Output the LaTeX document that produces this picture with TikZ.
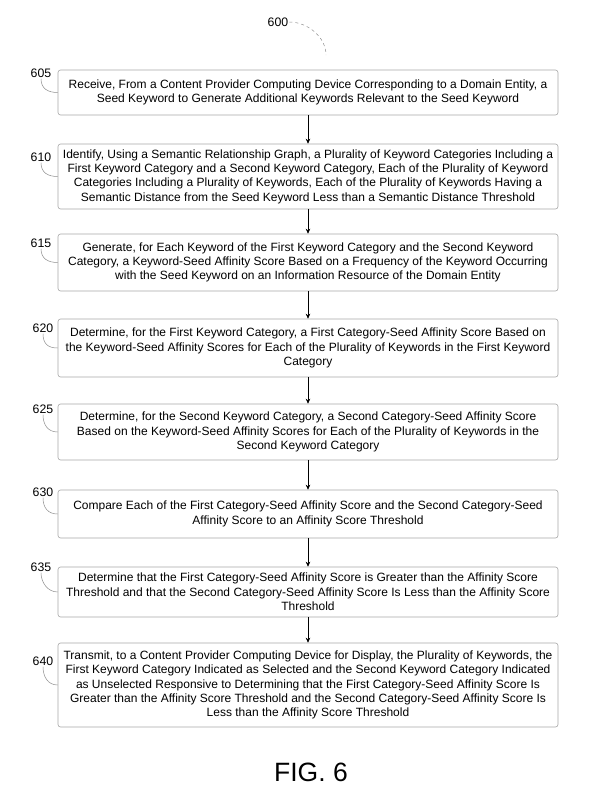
\documentclass[tikz,border=0pt]{standalone}
\usepackage{fontspec}
\setmainfont{Liberation Sans}
\usetikzlibrary{arrows.meta}
\tikzset{
  stepbox/.style={draw=black!35, line width=0.6pt, rounded corners=2.5pt, minimum width=500pt,
                  inner sep=0pt, align=center, font=\fontsize{12}{14.3}\selectfont},
  reflabel/.style={inner sep=1pt, font=\fontsize{12.3}{13}\selectfont},
  leader/.style={draw=black!45, line width=0.5pt},
  flow/.style={draw, line width=0.6pt, -{Stealth[length=5pt,width=4.5pt]}}
}

\begin{document}
\begin{tikzpicture}[x=1pt,y=-1pt]
  \useasboundingbox (0,0) rectangle (594,807);
  % figure number
  \node[reflabel] (l600) at (278,22) {600};
  \coordinate (c600) at (326,55);
  \draw[leader, dashed] (l600.east) .. controls +(18,0) and +(0,-18) .. (c600);

  % steps
  \node[stepbox, minimum height=45pt] (b605) at (308,92.5) {Receive, From a Content Provider Computing Device Corresponding to a Domain Entity, a\\Seed Keyword to Generate Additional Keywords Relevant to the Seed Keyword};
  \node[stepbox, minimum height=65pt] (b610) at (308,176.5) {Identify, Using a Semantic Relationship Graph, a Plurality of Keyword Categories Including a\\First Keyword Category and a Second Keyword Category, Each of the Plurality of Keyword\\Categories Including a Plurality of Keywords, Each of the Plurality of Keywords Having a\\Semantic Distance from the Seed Keyword Less than a Semantic Distance Threshold};
  \node[stepbox, minimum height=57pt] (b615) at (308,262.5) {Generate, for Each Keyword of the First Keyword Category and the Second Keyword\\Category, a Keyword-Seed Affinity Score Based on a Frequency of the Keyword Occurring\\with the Seed Keyword on an Information Resource of the Domain Entity};
  \node[stepbox, minimum height=58pt] (b620) at (308,348) {Determine, for the First Keyword Category, a First Category-Seed Affinity Score Based on\\the Keyword-Seed Affinity Scores for Each of the Plurality of Keywords in the First Keyword\\Category};
  \node[stepbox, minimum height=56pt] (b625) at (308,432) {Determine, for the Second Keyword Category, a Second Category-Seed Affinity Score\\Based on the Keyword-Seed Affinity Scores for Each of the Plurality of Keywords in the\\Second Keyword Category};
  \node[stepbox, minimum height=48pt] (b630) at (308,514) {Compare Each of the First Category-Seed Affinity Score and the Second Category-Seed\\Affinity Score to an Affinity Score Threshold};
  \node[stepbox, minimum height=50pt] (b635) at (308,592) {Determine that the First Category-Seed Affinity Score is Greater than the Affinity Score\\Threshold and that the Second Category-Seed Affinity Score Is Less than the Affinity Score\\Threshold};
  \node[stepbox, minimum height=84pt] (b640) at (308,685) {Transmit, to a Content Provider Computing Device for Display, the Plurality of Keywords, the\\First Keyword Category Indicated as Selected and the Second Keyword Category Indicated\\as Unselected Responsive to Determining that the First Category-Seed Affinity Score Is\\Greater than the Affinity Score Threshold and the Second Category-Seed Affinity Score Is\\Less than the Affinity Score Threshold};

  % reference numerals
  \node[reflabel] (l605) at (41,73) {605};
  \node[reflabel] (l610) at (41,157) {610};
  \node[reflabel] (l615) at (41,243) {615};
  \node[reflabel] (l620) at (43,328) {620};
  \node[reflabel] (l625) at (43,409) {625};
  \node[reflabel] (l630) at (43,492) {630};
  \node[reflabel] (l635) at (41,567) {635};
  \node[reflabel] (l640) at (43,661) {640};
  \foreach \n in {605,610,615,620,625,630,635,640}
    \draw[leader] (l\n.south) .. controls +(0,10) and +(-10,0) .. (b\n.west);

  % flow
  \draw[flow] (b605) -- (b610);
  \draw[flow] (b610) -- (b615);
  \draw[flow] (b615) -- (b620);
  \draw[flow] (b620) -- (b625);
  \draw[flow] (b625) -- (b630);
  \draw[flow] (b630) -- (b635);
  \draw[flow] (b635) -- (b640);

  \node[font=\fontsize{26.5}{28}\selectfont] (fig) at (311,772) {FIG. 6};
\end{tikzpicture}
\end{document}
